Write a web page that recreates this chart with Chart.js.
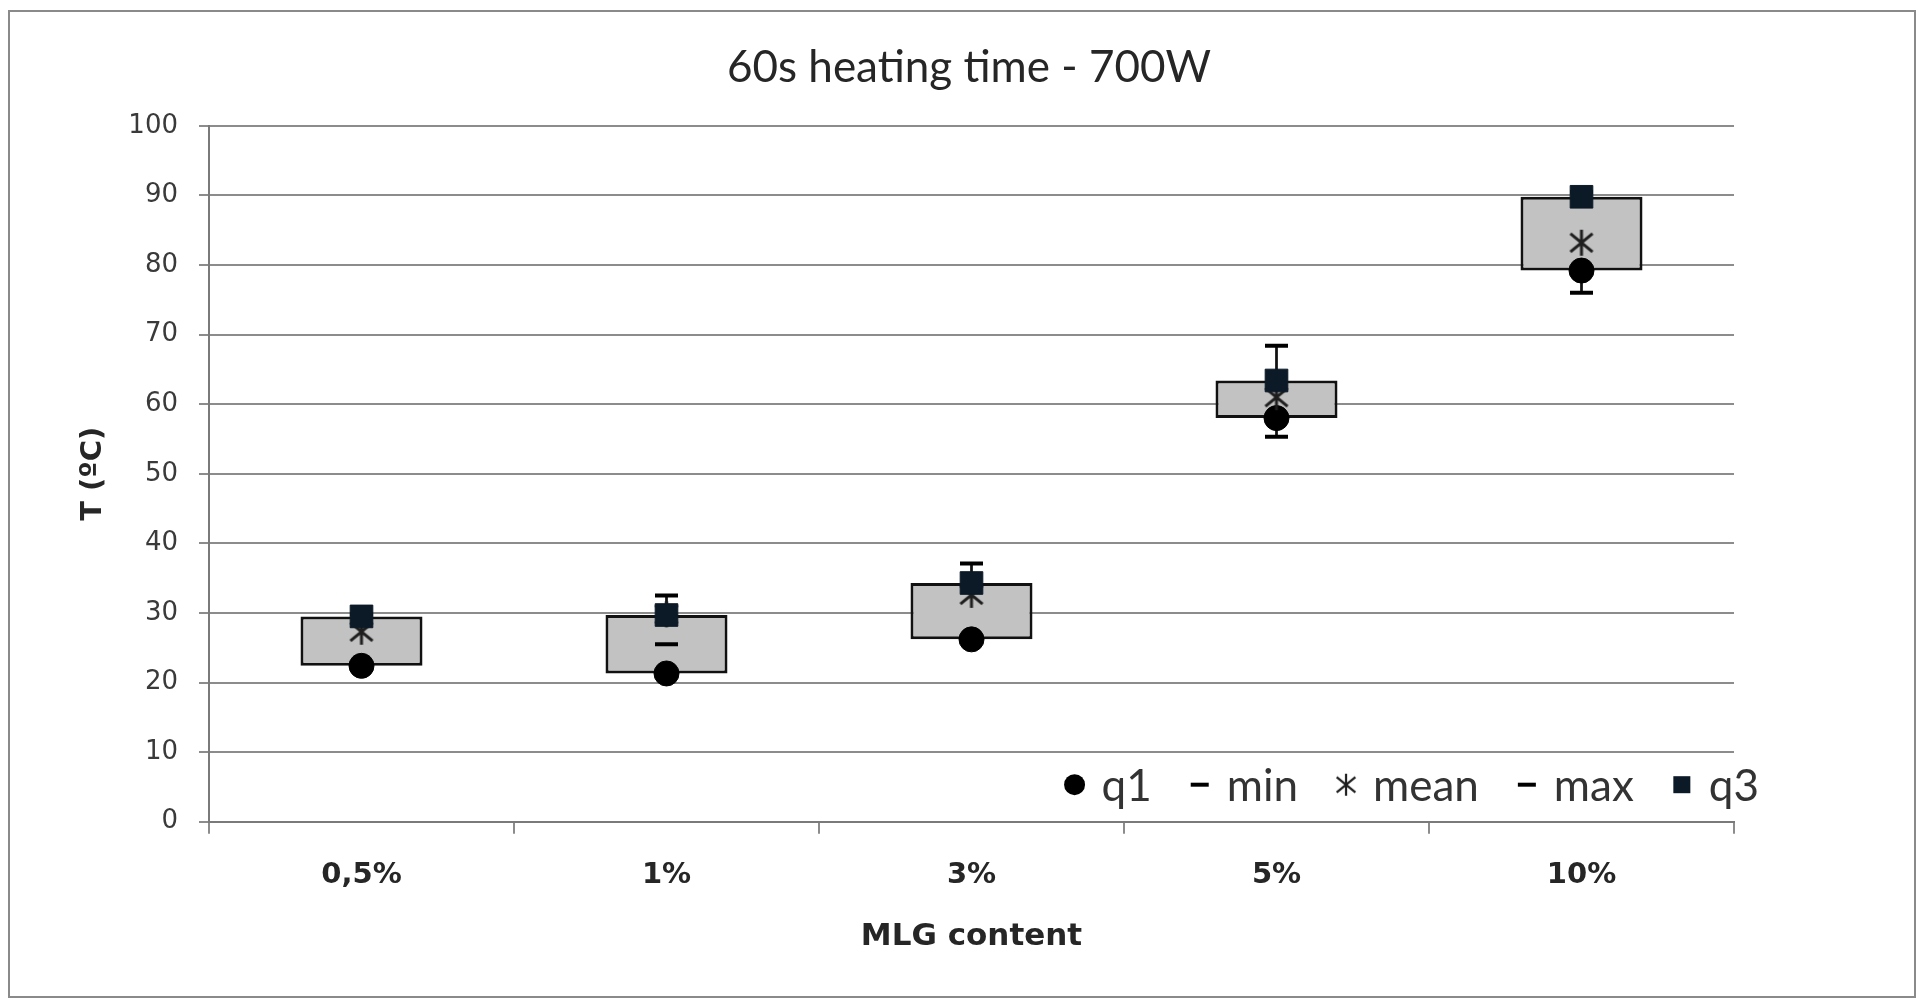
<!DOCTYPE html>
<html>
<head>
<meta charset="utf-8">
<title>60s heating time - 700W</title>
<script src="https://cdn.jsdelivr.net/npm/chart.js@4.4.1/dist/chart.umd.min.js"></script>
<style>
  html, body { margin: 0; padding: 0; background: #fff; }
  canvas { display: block; }
</style>
</head>
<body>
<canvas id="grafico" width="1919" height="1007"></canvas>
<script>
// --- values ---
const categorias = ['0,5%', '1%', '3%', '5%', '10%'];
const q1    = [22.4, 21.3, 26.2, 58.0, 79.2];
const q3    = [29.5, 29.7, 34.3, 63.4, 89.8];
const media = [27.3, 29.8, 32.6, 61.0, 83.2];
const minimo = [22.4, 25.5, 26.2, 55.3, 76.0];
const maximo = [29.8, 32.5, 37.1, 68.4, 90.5];
const yMin = 0, yMax = 100, yPasso = 10;

// box = q1..q3, whiskers only where they stick out of the box
const caixas = categorias.map((_, i) => [q1[i], q3[i]]);
const bigodeCima = categorias.map((_, i) => maximo[i] > q3[i] ? [q3[i], maximo[i]] : null);
const bigodeBaixo = categorias.map((_, i) => minimo[i] < q1[i] ? [minimo[i], q1[i]] : null);

const fonteEixo = 'DejaVu Sans';
const corTexto = '#262626';
const corGrade = '#8c8c8c';

// asterisk marker like Excel's (X plus a vertical bar)
function criaEstrela(tam, esp) {
    const c = document.createElement('canvas');
    c.width = tam; c.height = tam;
    const g = c.getContext('2d');
    const m = tam / 2, r = tam / 2 - 1;
    g.strokeStyle = '#1e1e1e';
    g.lineWidth = esp;
    g.beginPath();
    g.moveTo(m, m - r); g.lineTo(m, m + r);
    g.moveTo(m - r * 0.85, m - r * 0.7); g.lineTo(m + r * 0.85, m + r * 0.7);
    g.moveTo(m + r * 0.85, m - r * 0.7); g.lineTo(m - r * 0.85, m + r * 0.7);
    g.stroke();
    return c;
}
const estrela = criaEstrela(28, 3);
const estrelaLegenda = criaEstrela(24, 2.2);

// grey frame round the whole chart
const moldura = {
    id: 'moldura',
    beforeDraw(chart) {
        const ctx = chart.ctx;
        ctx.save();
        ctx.fillStyle = '#fff';
        ctx.fillRect(0, 0, chart.width, chart.height);
        ctx.strokeStyle = '#8a8a8a';
        ctx.lineWidth = 2;
        ctx.strokeRect(9, 11, 1906, 986);
        ctx.restore();
    }
};

// legend sits inside the plot, bottom right, in one row
const legendaInterna = {
    id: 'legendaInterna',
    afterDatasetsDraw(chart) {
        const { ctx, chartArea } = chart;
        const itens = chart.data.datasets.filter(d => d.legenda);
        ctx.save();
        ctx.font = '44px Lato';
        ctx.textBaseline = 'middle';
        const gapTexto = 27, gapItem = 48;
        let total = 0;
        itens.forEach((d, i) => {
            total += gapTexto + ctx.measureText(d.label).width;
            if (i < itens.length - 1) total += gapItem;
        });
        let x = chartArea.right + 25 - total;
        const y = chartArea.bottom - 37;
        itens.forEach(d => {
            ctx.fillStyle = '#000';
            ctx.strokeStyle = '#000';
            if (d.legenda === 'circulo') {
                ctx.beginPath(); ctx.arc(x, y, 10.5, 0, Math.PI * 2); ctx.fill();
            } else if (d.legenda === 'traco') {
                ctx.lineWidth = 4;
                ctx.beginPath(); ctx.moveTo(x - 9, y); ctx.lineTo(x + 9, y); ctx.stroke();
            } else if (d.legenda === 'estrela') {
                ctx.drawImage(estrelaLegenda, x - 12, y - 12);
            } else if (d.legenda === 'quadrado') {
                ctx.fillStyle = '#0c1a28';
                ctx.fillRect(x - 8.5, y - 8.5, 17, 17);
            }
            ctx.fillStyle = '#333';
            ctx.fillText(d.label, x + gapTexto, y + 2);
            x += gapTexto + ctx.measureText(d.label).width + gapItem;
        });
        ctx.restore();
    }
};

function marcador(label, dados, extra, ordem, legenda) {
    return Object.assign({
        type: 'line', label, data: dados, showLine: false, order: ordem, legenda
    }, extra);
}

new Chart(document.getElementById('grafico'), {
    type: 'bar',
    data: {
        labels: categorias,
        datasets: [
            marcador('q1', q1, { pointStyle: 'circle', pointRadius: 12.5, pointBackgroundColor: '#000', pointBorderColor: '#000', pointBorderWidth: 1 }, 5, 'circulo'),
            marcador('min', minimo, { pointStyle: 'line', pointRadius: 11.5, pointBorderColor: '#000', pointBorderWidth: 4 }, 4, 'traco'),
            marcador('mean', media, { pointStyle: estrela, pointRadius: 14 }, 3, 'estrela'),
            marcador('max', maximo, { pointStyle: 'line', pointRadius: 11.5, pointBorderColor: '#000', pointBorderWidth: 4 }, 2, 'traco'),
            marcador('q3', q3, { pointStyle: 'rect', pointRadius: 16, pointBackgroundColor: '#0c1a28', pointBorderColor: '#0c1a28', pointBorderWidth: 1 }, 1, 'quadrado'),
            {
                label: 'up', data: bigodeCima, backgroundColor: '#111', borderWidth: 0,
                barPercentage: 0.009, categoryPercentage: 1, grouped: false, order: 8
            },
            {
                label: 'down', data: bigodeBaixo, backgroundColor: '#111', borderWidth: 0,
                barPercentage: 0.009, categoryPercentage: 1, grouped: false, order: 8
            },
            {
                label: 'box', data: caixas, backgroundColor: '#c2c2c2', borderColor: '#111',
                borderWidth: 3, borderSkipped: false, barPercentage: 0.4, categoryPercentage: 1,
                grouped: false, order: 9
            }
        ]
    },
    options: {
        responsive: false,
        animation: false,
        layout: { padding: { left: 60, right: 41, top: 0, bottom: 40 } },
        plugins: {
            legend: { display: false },
            tooltip: { enabled: false },
            title: {
                display: true,
                text: '60s heating time - 700W',
                color: corTexto,
                font: { family: 'Lato', size: 44, weight: 'normal' },
                padding: { top: 41, bottom: 32 }
            }
        },
        scales: {
            x: {
                grid: { display: true, drawOnChartArea: false, offset: true, tickLength: 12, color: corGrade, lineWidth: 2 },
                border: { color: '#7a7a7a', width: 2 },
                ticks: { color: corTexto, font: { family: fonteEixo, size: 29, weight: 'bold' }, padding: 24 },
                title: {
                    display: true, text: 'MLG content', color: corTexto,
                    font: { family: fonteEixo, size: 31, weight: 'bold' },
                    padding: { top: 0, bottom: 11 }
                },
                afterFit: s => { s.height = 145.3; }
            },
            y: {
                min: yMin, max: yMax,
                grid: { color: corGrade, lineWidth: 2, tickLength: 10 },
                border: { color: '#7a7a7a', width: 2 },
                ticks: { stepSize: yPasso, color: '#3a3a3a', font: { family: fonteEixo, size: 26 }, padding: 21 },
                title: {
                    display: true, text: 'T (ºC)', color: corTexto,
                    font: { family: fonteEixo, size: 29, weight: 'bold' },
                    padding: { top: 16, bottom: 0 }
                },
                afterFit: s => { s.width = 149; }
            },
            // empty right-hand space so the title centres like the original
            vazio: {
                position: 'right',
                display: true,
                grid: { display: false },
                border: { display: false },
                ticks: { display: false },
                afterFit: s => { s.width = 144; }
            }
        }
    },
    plugins: [moldura, legendaInterna]
});
</script>
</body>
</html>
